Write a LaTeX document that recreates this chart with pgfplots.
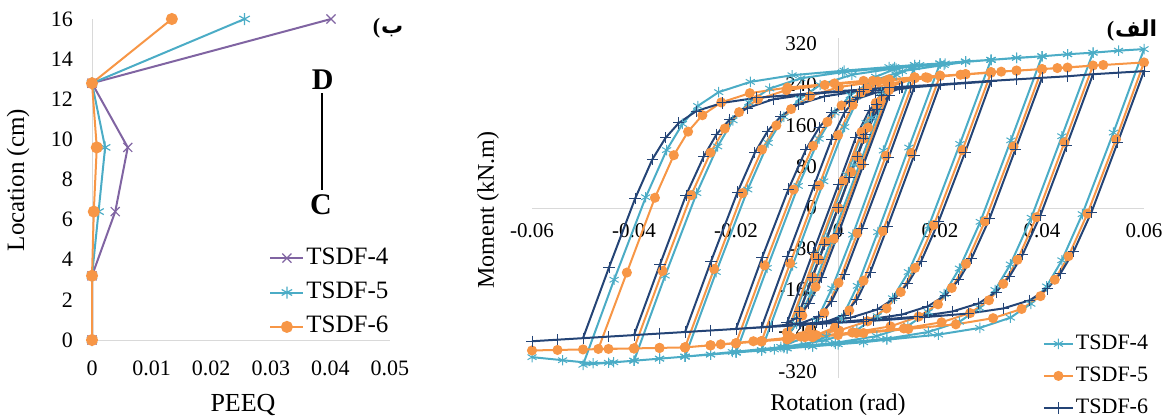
\documentclass[border=0pt]{standalone}
\usepackage{pgfplots}
\pgfplotsset{compat=1.18}
\usepackage{fontspec}
\setmainfont{Liberation Serif}
\newfontfamily\arabicfont[Script=Arabic]{DejaVu Sans}
\TeXXeTstate=1
\definecolor{cpurple}{RGB}{128,100,162}
\definecolor{cteal}{RGB}{75,172,198}
\definecolor{corange}{RGB}{247,150,70}
\definecolor{cnavy}{RGB}{36,68,118}
\definecolor{caxis}{RGB}{217,217,217}
\begin{document}
\begin{tikzpicture}
\path[use as bounding box] (0,0) rectangle (583pt,209pt);
% ---------------- left chart ----------------
\begin{axis}[
  at={(46pt,39pt)}, anchor=south west, scale only axis,
  width=149pt, height=160.5pt,
  xmin=0, xmax=0.05, ymin=0, ymax=16,
  axis x line=bottom, axis y line=left,
  axis line style={draw=caxis,-},
  major tick length=0pt,
  scaled x ticks=false, scaled y ticks=false,
  xtick={0,0.01,0.02,0.03,0.04,0.05},
  xticklabels={0,0.01,0.02,0.03,0.04,0.05},
  ytick={0,2,4,6,8,10,12,14,16},
  yticklabels={0,2,4,6,8,10,12,14,16},
  tick label style={font=\fontsize{11}{13}\selectfont},
  xticklabel style={anchor=north, yshift=-7pt},
  yticklabel style={anchor=east, xshift=-6pt},
  clip=false,
  legend cell align=left,
  legend style={at={(axis cs:0.0297,4.8)}, anchor=north west, draw=none, fill=none,
    inner sep=0pt, row sep=3.2pt,
    font=\fontsize{12.5}{14}\selectfont,
    nodes={inner sep=1pt, text height=9pt, text depth=3pt}},
  legend image code/.code={\draw[mark repeat=2,mark phase=2] plot coordinates {(0cm,0cm) (0.29cm,0cm) (0.58cm,0cm)};},
]
\addplot[color=cpurple, line width=1pt, mark=x, mark size=3.2pt, mark options={line width=0.6pt}]
  coordinates {(0,0) (0,3.2) (0.0039,6.4) (0.006,9.6) (0,12.8) (0.0401,16)};
\addlegendentry{TSDF-4}
\addplot[color=cteal, line width=1pt, mark=asterisk, mark size=3pt, mark options={line width=0.6pt}]
  coordinates {(0,0) (0,3.2) (0.0011,6.4) (0.0022,9.6) (0,12.8) (0.0256,16)};
\addlegendentry{TSDF-5}
\addplot[color=corange, line width=1pt, mark=*, mark size=2.5pt]
  coordinates {(0,0) (0,3.2) (0.0003,6.4) (0.0008,9.6) (0,12.8) (0.0134,16)};
\addlegendentry{TSDF-6}
\draw[line width=1.3pt] (axis cs:0.0386,12.3) -- (axis cs:0.0386,7.5);
\node[font=\bfseries\fontsize{15}{17}\selectfont] at (axis cs:0.0387,12.95) {D};
\node[font=\bfseries\fontsize{15}{17}\selectfont] at (axis cs:0.0384,6.75) {C};
\end{axis}
\node[font=\fontsize{13}{15}\selectfont] at (121.5pt,6.5pt) {PEEQ};
\node[rotate=90, font=\fontsize{12.5}{14}\selectfont] at (9pt,119pt) {Location (cm)};
\node[font=\fontsize{11}{13}\selectfont, inner sep=0pt] at (194pt,195pt) {\textbf{(}\hspace{0.5pt}{\arabicfont\bfseries ب}};
% ---------------- right chart ----------------
\begin{axis}[
  at={(266pt,19.93pt)}, anchor=south west, scale only axis,
  width=306pt, height=170.15pt,
  xmin=-0.06, xmax=0.06, ymin=-332, ymax=332,
  axis lines=middle,
  axis line style={draw=caxis,-},
  major tick length=0pt,
  scaled x ticks=false, scaled y ticks=false,
  hide obscured x ticks=false, hide obscured y ticks=false,
  xtick={-0.06,-0.04,-0.02,0,0.02,0.04,0.06},
  xticklabels={-0.06,-0.04,-0.02,0,0.02,0.04,0.06},
  ytick={-240,-160,-80,0,80,160,240},
  yticklabels={-240,-160,-80,0,80,160,240},
  tick label style={font=\fontsize{10.5}{12}\selectfont},
  xticklabel style={anchor=north, yshift=-4pt},
  yticklabel style={anchor=east, xshift=-7pt},
  clip=false,
  legend cell align=left,
  legend style={at={(axis cs:0.0401,-241)}, anchor=north west, draw=none, fill=none,
    inner sep=0pt, row sep=4pt,
    font=\fontsize{11}{13}\selectfont,
    nodes={inner sep=1pt, text height=8pt, text depth=2pt}},
  legend image code/.code={\draw[mark repeat=2,mark phase=2] plot coordinates {(0cm,0cm) (0.255cm,0cm) (0.51cm,0cm)};},
]
% TSDF-4
\addplot[color=cteal, line width=1pt, mark=asterisk, mark size=2.6pt, mark options={line width=0.5pt}]
coordinates {
(0,0) (0.00375,101) (-0.00375,-101) (0.005,135) (-0.005,-135) (0.0075,202) (-0.0075,-202)
(-0.0022,-59) (0.0031,84) (0.0066,176) (0.01,242)
(0.0043,87) (-0.0015,-67) (-0.0053,-166) (-0.0081,-226) (-0.01,-250)
(-0.0042,-93) (0.0017,65) (0.0055,166) (0.0085,226) (0.0114,260) (0.015,275)
(0.0089,112) (0.0029,-52) (-0.0012,-157) (-0.0042,-220) (-0.0072,-255) (-0.0112,-271) (-0.015,-277)
(-0.0089,-112) (-0.0028,52) (0.0013,158) (0.0043,221) (0.0074,256) (0.0114,272) (0.016,279) (0.02,282)
(0.0139,118) (0.0078,-47) (0.0038,-152) (0.0007,-216) (-0.0023,-251) (-0.0064,-267) (-0.0125,-276) (-0.02,-282)
(-0.0139,-117) (-0.0078,43) (-0.0037,135) (-0.0006,186) (0.0024,220) (0.0065,247) (0.0126,267) (0.0208,279) (0.025,285) (0.03,289)
(0.0239,125) (0.0178,-35) (0.0138,-125) (0.0107,-176) (0.0077,-211) (0.0037,-238) (-0.0024,-258) (-0.0105,-271) (-0.0207,-281) (-0.03,-290)
(-0.0239,-125) (-0.0177,36) (-0.0137,127) (-0.0106,178) (-0.0075,213) (-0.0035,240) (0.0027,260) (0.0108,272) (0.021,282) (0.03,289) (0.04,296)
(0.0339,132) (0.0279,-27) (0.0238,-118) (0.0208,-168) (0.0177,-203) (0.0137,-230) (0.0076,-250) (-0.0005,-263) (-0.0106,-273) (-0.02,-282) (-0.03,-290) (-0.04,-298)
(-0.0339,-132) (-0.0277,29) (-0.0236,120) (-0.0206,171) (-0.0175,206) (-0.0134,233) (-0.0073,253) (0.0009,265) (0.0111,275) (0.015,279) (0.02,282) (0.025,286) (0.03,289) (0.035,293) (0.04,296) (0.045,300) (0.05,303)
(0.0439,140) (0.0379,-19) (0.0338,-110) (0.0308,-160) (0.0278,-195) (0.0238,-222) (0.0177,-242) (0.0096,-255) (-0.0005,-265) (-0.005,-270) (-0.01,-274) (-0.015,-278) (-0.02,-282) (-0.025,-286) (-0.03,-290) (-0.035,-294) (-0.04,-298) (-0.045,-302) (-0.05,-306)
(-0.0439,-140) (-0.0377,21) (-0.0336,113) (-0.0305,164) (-0.0275,199) (-0.0234,226) (-0.0172,246) (-0.009,259) (0.0012,268) (0.01,275) (0.015,279) (0.02,282) (0.025,286) (0.03,289) (0.035,293) (0.04,296) (0.045,300) (0.05,303) (0.055,307) (0.06,310)
(0.054,147) (0.0479,-12) (0.0439,-102) (0.0409,-153) (0.0378,-187) (0.0338,-214) (0.0278,-234) (0.0197,-247) (0.0096,-257) (0.005,-262) (0,-266) (-0.005,-270) (-0.01,-274) (-0.015,-278) (-0.02,-282) (-0.025,-286) (-0.03,-290) (-0.035,-294) (-0.04,-298) (-0.044,-301) (-0.048,-303) (-0.054,-297) (-0.06,-291)
};
\addlegendentry{TSDF-4}
% TSDF-5
\addplot[color=corange, line width=1pt, mark=*, mark size=2pt]
coordinates {
(0,0) (0.00375,101) (-0.00375,-101) (0.005,135) (-0.005,-135) (0.0075,202) (-0.0075,-202)
(-0.0025,-66) (0.0026,70) (0.0059,157) (0.0084,209) (0.01,230)
(0.0046,85) (-0.0008,-60) (-0.0044,-154) (-0.007,-210) (-0.01,-243)
(-0.0045,-95) (0.001,53) (0.0046,148) (0.0074,205) (0.0101,236) (0.015,253)
(0.0094,102) (0.0038,-49) (0.0001,-146) (-0.0027,-205) (-0.0055,-237) (-0.0093,-252) (-0.015,-260)
(-0.0094,-108) (-0.0037,44) (0,142) (0.0029,201) (0.0057,233) (0.0094,248) (0.0151,254) (0.02,258)
(0.0144,107) (0.0088,-45) (0.005,-142) (0.0022,-200) (-0.0006,-233) (-0.0043,-248) (-0.0099,-256) (-0.015,-260) (-0.02,-264)
(-0.0144,-112) (-0.0087,36) (-0.0049,121) (-0.0021,168) (0.0007,200) (0.0045,225) (0.0101,243) (0.0176,254) (0.024,260) (0.03,264)
(0.0244,113) (0.0188,-33) (0.0151,-117) (0.0123,-164) (0.0095,-196) (0.0058,-221) (0.0002,-239) (-0.0073,-251) (-0.0166,-260) (-0.023,-266) (-0.03,-272)
(-0.0243,-119) (-0.0187,29) (-0.0149,114) (-0.0121,161) (-0.0092,193) (-0.0055,218) (0.0002,236) (0.0078,247) (0.0172,255) (0.025,261) (0.032,266) (0.04,271)
(0.0344,120) (0.0288,-26) (0.0251,-109) (0.0223,-156) (0.0196,-188) (0.0158,-212) (0.0103,-231) (0.0028,-243) (-0.0065,-252) (-0.015,-260) (-0.025,-268) (-0.03,-272) (-0.04,-274)
(-0.0344,-123) (-0.0288,25) (-0.025,108) (-0.0222,155) (-0.0194,187) (-0.0157,212) (-0.0101,230) (-0.0026,240) (0.0068,248) (0.015,255) (0.02,258) (0.025,261) (0.03,265) (0.035,268) (0.043,273) (0.05,278)
(0.0444,128) (0.0389,-18) (0.0352,-101) (0.0324,-148) (0.0296,-180) (0.0259,-205) (0.0203,-223) (0.0129,-235) (0.0036,-244) (-0.005,-252) (-0.01,-256) (-0.015,-260) (-0.02,-264) (-0.025,-268) (-0.03,-272) (-0.035,-273) (-0.04,-274) (-0.047,-275)
(-0.0414,-126) (-0.0359,20) (-0.0322,103) (-0.0294,149) (-0.0266,181) (-0.0229,206) (-0.0173,224) (-0.0099,235) (-0.0007,243) (0.005,248) (0.01,251) (0.015,255) (0.02,258) (0.025,261) (0.03,265) (0.035,268) (0.04,271) (0.045,274) (0.052,279) (0.06,284)
(0.0545,134) (0.0489,-11) (0.0452,-94) (0.0425,-140) (0.0397,-172) (0.036,-197) (0.0304,-215) (0.0231,-227) (0.0138,-236) (0.005,-244) (0,-248) (-0.005,-252) (-0.01,-256) (-0.015,-260) (-0.02,-264) (-0.025,-268) (-0.03,-272) (-0.035,-273) (-0.04,-274) (-0.045,-275) (-0.05,-276) (-0.055,-277) (-0.06,-278)
};
\addlegendentry{TSDF-5}
% TSDF-6
\addplot[color=cnavy, line width=1pt, mark=+, mark size=2.8pt, mark options={line width=0.5pt}]
coordinates {
(0,0) (0.00375,101) (-0.00375,-101) (0.005,135) (-0.005,-135) (0.0075,202) (-0.0075,-202)
(-0.0027,-71) (0.0022,59) (0.0054,143) (0.0078,193) (0.01,219)
(0.005,85) (0.0001,-49) (-0.0032,-135) (-0.0057,-187) (-0.0082,-215) (-0.01,-224)
(-0.0049,-87) (0.0001,46) (0.0035,138) (0.0061,190) (0.0086,219) (0.012,233) (0.015,237)
(0.0099,98) (0.0047,-40) (0.0013,-129) (-0.0013,-183) (-0.0038,-212) (-0.0073,-225) (-0.015,-233)
(-0.0099,-94) (-0.0047,44) (-0.0013,133) (0.0013,187) (0.0038,216) (0.0073,230) (0.0124,236) (0.02,241)
(0.0149,102) (0.0097,-37) (0.0063,-126) (0.0037,-179) (0.0011,-209) (-0.0023,-222) (-0.0075,-228) (-0.0135,-232) (-0.02,-236)
(-0.0149,-97) (-0.0097,37) (-0.0063,114) (-0.0037,157) (-0.0012,186) (0.0023,208) (0.0074,225) (0.0142,235) (0.0228,242) (0.03,247)
(0.0249,108) (0.0197,-27) (0.0163,-104) (0.0137,-147) (0.0111,-176) (0.0077,-198) (0.0025,-214) (-0.0043,-224) (-0.0129,-231) (-0.02,-236) (-0.03,-242)
(-0.0249,-104) (-0.0197,31) (-0.0163,108) (-0.0138,150) (-0.0112,179) (-0.0078,202) (-0.0026,218) (0.0042,228) (0.0127,235) (0.02,241) (0.03,248) (0.04,254)
(0.0348,115) (0.0297,-21) (0.0262,-98) (0.0237,-140) (0.0211,-170) (0.0176,-192) (0.0125,-208) (0.0056,-218) (-0.003,-225) (-0.01,-230) (-0.02,-236) (-0.03,-242) (-0.04,-248)
(-0.0349,-110) (-0.0298,25) (-0.0263,101) (-0.0238,144) (-0.0212,173) (-0.0178,195) (-0.0127,212) (-0.0058,222) (0.0027,229) (0.01,235) (0.015,238) (0.02,241) (0.025,244) (0.03,248) (0.035,251) (0.04,254) (0.045,257) (0.05,261)
(0.0448,121) (0.0397,-14) (0.0362,-91) (0.0336,-134) (0.031,-164) (0.0276,-186) (0.0224,-202) (0.0155,-212) (0.0069,-219) (0,-224) (-0.005,-227) (-0.01,-230) (-0.015,-233) (-0.02,-236) (-0.025,-239) (-0.03,-242) (-0.035,-245) (-0.04,-248) (-0.045,-251) (-0.05,-254)
(-0.0449,-116) (-0.0398,18) (-0.0364,95) (-0.0338,137) (-0.0312,166) (-0.0278,189) (-0.0227,205) (-0.0159,215) (-0.0074,222) (0,228) (0.005,231) (0.01,235) (0.015,238) (0.02,241) (0.025,244) (0.03,248) (0.035,251) (0.04,254) (0.045,257) (0.05,261) (0.055,264) (0.06,267)
(0.0548,127) (0.0497,-8) (0.0462,-85) (0.0436,-128) (0.041,-158) (0.0376,-180) (0.0324,-196) (0.0255,-206) (0.0169,-213) (0.01,-218) (0.005,-221) (0,-224) (-0.005,-227) (-0.01,-230) (-0.015,-233) (-0.02,-236) (-0.025,-239) (-0.03,-242) (-0.035,-245) (-0.04,-248) (-0.045,-251) (-0.05,-254) (-0.055,-257) (-0.06,-260)
};
\addlegendentry{TSDF-6}
\node[anchor=east, inner sep=3.33pt, xshift=-7pt, font=\fontsize{10.5}{12}\selectfont] at (axis cs:0,320) {320};
\node[anchor=east, inner sep=3.33pt, xshift=-7pt, font=\fontsize{10.5}{12}\selectfont] at (axis cs:0,-320) {-320};
\end{axis}
\node[font=\fontsize{12}{14}\selectfont] at (419pt,6.5pt) {Rotation (rad)};
\node[rotate=90, font=\fontsize{12}{14}\selectfont] at (244pt,104pt) {Moment (kN.m)};
\node[font=\fontsize{11}{13}\selectfont, inner sep=0pt] at (566pt,194pt) {\textbf{(}\hspace{0.5pt}{\arabicfont\bfseries الف}};
\end{tikzpicture}
\end{document}
